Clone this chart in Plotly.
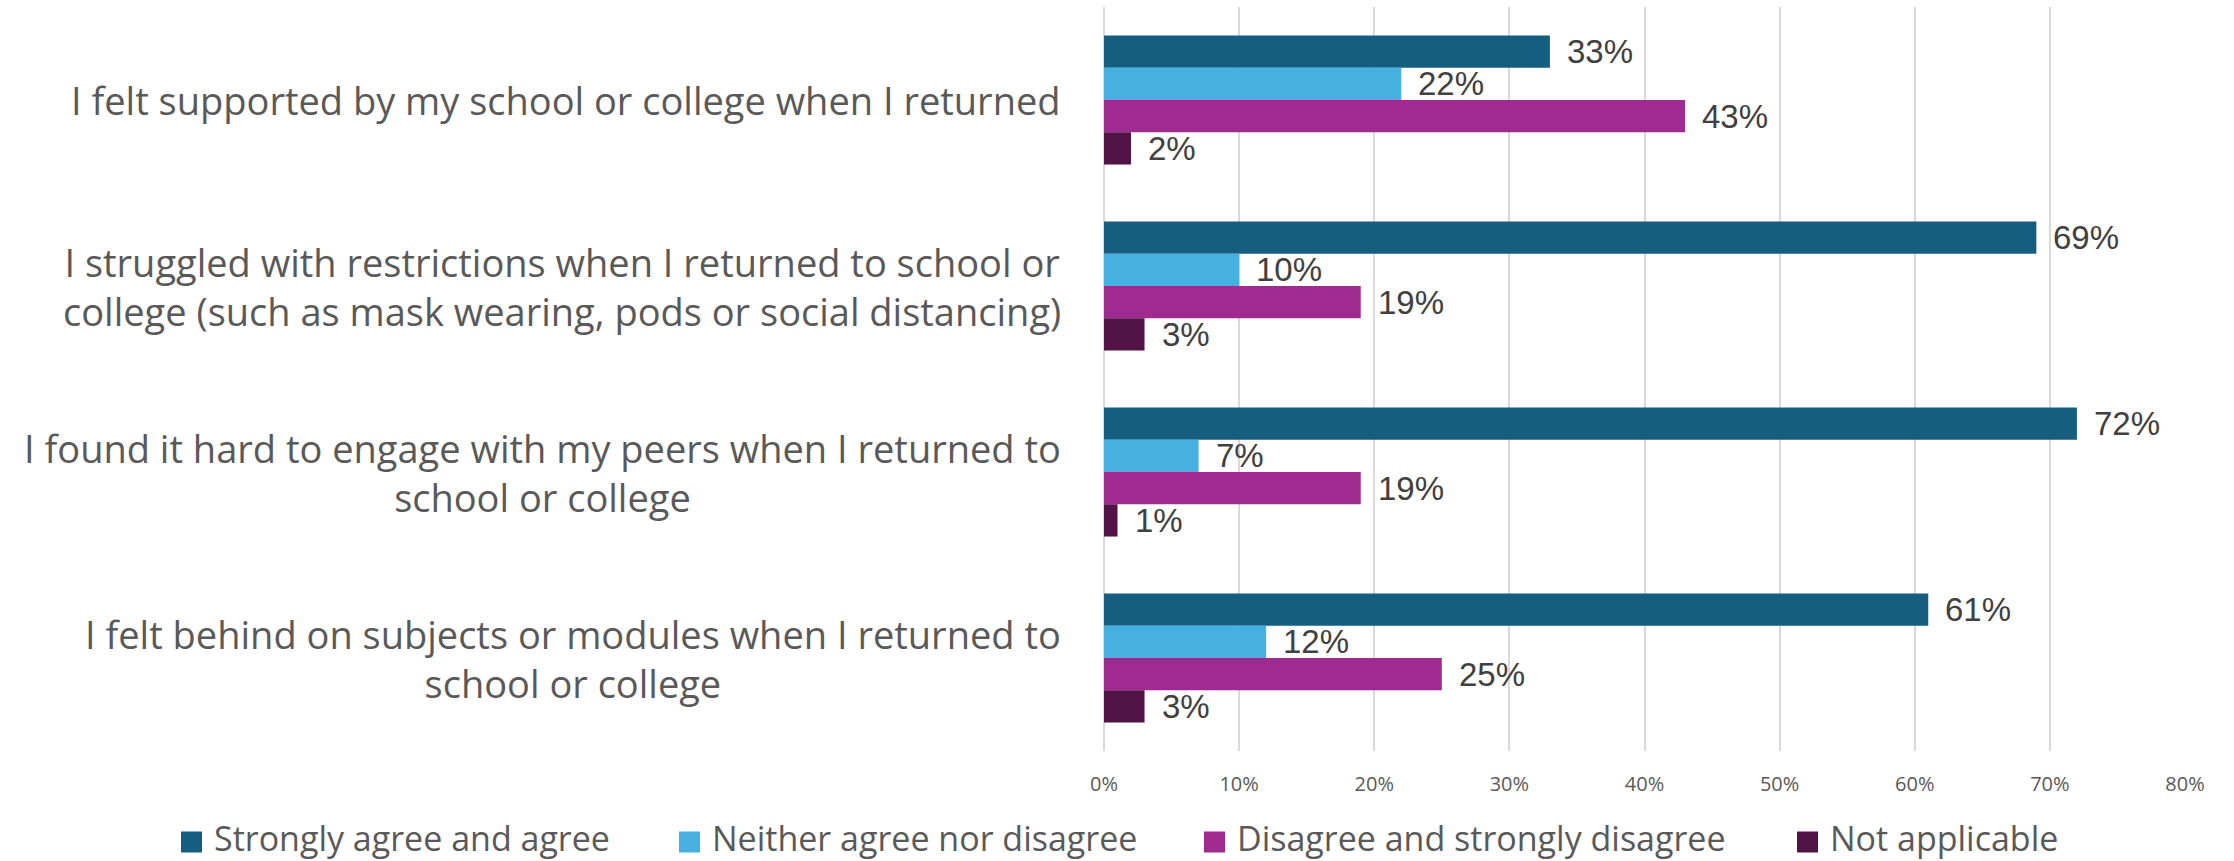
import plotly.graph_objects as go

# Survey statements (y categories) and their displayed, wrapped versions
categories = [
    "I felt supported by my school or college when I returned",
    "I struggled with restrictions when I returned to school or college (such as mask wearing, pods or social distancing)",
    "I found it hard to engage with my peers when I returned to school or college",
    "I felt behind on subjects or modules when I returned to school or college",
]
category_labels = [
    "I felt supported by my school or college when I returned",
    "I struggled with restrictions when I returned to school or<br>college (such as mask wearing, pods or social distancing)",
    "I found it hard to engage with my peers when I returned to<br>school or college",
    "I felt behind on subjects or modules when I returned to<br>school or college",
]

series_names = [
    "Strongly agree and agree",
    "Neither agree nor disagree",
    "Disagree and strongly disagree",
    "Not applicable",
]
strongly_agree = [33, 69, 72, 61]
neither = [22, 10, 7, 12]
disagree = [43, 19, 19, 25]
not_applicable = [2, 3, 1, 3]
series_values = [strongly_agree, neither, disagree, not_applicable]
series_colors = ["#165E80", "#46B0E1", "#A02B90", "#521447"]

x_ticks = [0, 10, 20, 30, 40, 50, 60, 70, 80]
x_tick_labels = ["0%", "10%", "20%", "30%", "40%", "50%", "60%", "70%", "80%"]

# Page / plot-area geometry in pixels
W, H = 2234, 861
M_L, M_R, M_T, M_B = 1104, 49, 7, 110
PW, PH = W - M_L - M_R, H - M_T - M_B
BARGAP = 0.306

TEXT_FONT = "'Open Sans', 'Noto Sans', sans-serif"
LABEL_FONT = "'Liberation Sans', Arial, sans-serif"


def px_x(px):
    return (px - M_L) / PW


def px_y(py):
    return (H - M_B - py) / PH


fig = go.Figure()
for name, vals, color in zip(series_names, series_values, series_colors):
    fig.add_trace(go.Bar(
        y=categories, x=vals, name=name, orientation="h",
        marker=dict(color=color, line=dict(width=0)),
        showlegend=False, hoverinfo="x+name",
    ))

annotations = []
# Value labels to the right of each bar
n = len(series_names)
group_w = 1 - BARGAP
for j, vals in enumerate(series_values):
    offset = -group_w / 2 + (j + 0.5) * group_w / n
    for i, v in enumerate(vals):
        annotations.append(dict(
            x=v, y=i + offset, xref="x", yref="y", text=f"{v}%",
            showarrow=False, xanchor="left", yanchor="middle", xshift=15,
            font=dict(family=LABEL_FONT, size=33, color="#404040"),
        ))

# Statement labels, centred text blocks left of the plot
for i, lab in enumerate(category_labels):
    annotations.append(dict(
        x=px_x(1063), y=i, xref="paper", yref="y", text=lab,
        showarrow=False, xanchor="right", yanchor="middle", align="center",
        font=dict(family=TEXT_FONT, size=38, color="#595959"),
    ))

# Legend row along the bottom
legend_text_x = [212, 710, 1235, 1828]
legend_y = 838
sq = 21
shapes = []
for name, color, tx in zip(series_names, series_colors, legend_text_x):
    shapes.append(dict(
        type="rect", xref="paper", yref="paper",
        x0=px_x(tx - 31), x1=px_x(tx - 31 + sq),
        y0=px_y(legend_y + 4 + sq / 2), y1=px_y(legend_y + 4 - sq / 2),
        fillcolor=color, line=dict(width=0),
    ))
    annotations.append(dict(
        x=px_x(tx), y=px_y(legend_y), xref="paper", yref="paper", text=name,
        showarrow=False, xanchor="left", yanchor="middle",
        font=dict(family=TEXT_FONT, size=34, color="#595959"),
    ))

fig.update_layout(
    width=W, height=H,
    margin=dict(l=M_L, r=M_R, t=M_T, b=M_B),
    barmode="group", bargap=BARGAP, bargroupgap=0,
    plot_bgcolor="white", paper_bgcolor="white",
    showlegend=False,
    annotations=annotations, shapes=shapes,
    xaxis=dict(
        range=[0, 80], tickvals=x_ticks, ticktext=x_tick_labels,
        showgrid=True, gridcolor="#D9D9D9", gridwidth=1.5,
        zeroline=True, zerolinecolor="#D9D9D9", zerolinewidth=1.5,
        showline=False, ticks="", ticklabelstandoff=19,
        tickfont=dict(family=TEXT_FONT, size=20, color="#595959"),
    ),
    yaxis=dict(
        autorange="reversed", showticklabels=False, showgrid=False,
        zeroline=False, showline=False, ticks="",
    ),
)

fig.write_html("out.html")
